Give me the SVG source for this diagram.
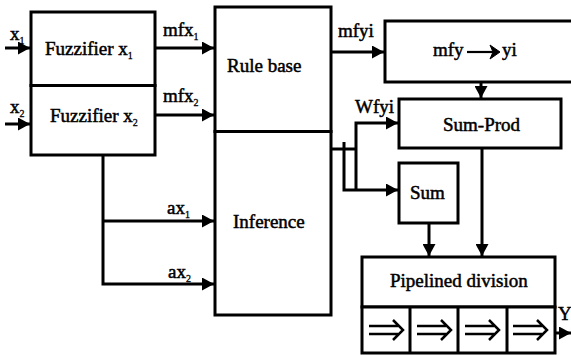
<svg xmlns="http://www.w3.org/2000/svg" width="571" height="355" viewBox="0 0 571 355">
<defs>
<style>
.box{fill:#fff;stroke:#000;stroke-width:3}
.ln{fill:none;stroke:#000;stroke-width:3}
text{font-family:'Liberation Serif','DejaVu Serif',serif;font-size:19px;fill:#000;stroke:#000;stroke-width:0.5}
.s{font-size:10px;stroke-width:0.3}
.dbl{fill:none;stroke:#000;stroke-width:2.5}
</style>
<marker id="ah" markerUnits="userSpaceOnUse" markerWidth="12" markerHeight="13" refX="12" refY="6.5" orient="auto">
<path d="M0,0 L12,6.5 L0,13 z" fill="#000"/>
</marker>
</defs>
<rect width="571" height="355" fill="#fff"/>

<g id="connectors">
<path class="ln" d="M5,48 H30" marker-end="url(#ah)"/>
<path class="ln" d="M5,124 H30" marker-end="url(#ah)"/>
<path class="ln" d="M155,48 H214" marker-end="url(#ah)"/>
<path class="ln" d="M155,115 H214" marker-end="url(#ah)"/>
<path class="ln" d="M103,155 V284 H214" marker-end="url(#ah)"/>
<path class="ln" d="M103,221 H214" marker-end="url(#ah)"/>
<path class="ln" d="M331,52 H384" marker-end="url(#ah)"/>
<path class="ln" d="M481,82 V98" marker-end="url(#ah)"/>
<path class="ln" d="M331,149 H356"/>
<path class="ln" d="M356,190 V123 H398" marker-end="url(#ah)"/>
<path class="ln" d="M344,142 V190 H398" marker-end="url(#ah)"/>
<path class="ln" d="M429,223 V256" marker-end="url(#ah)"/>
<path class="ln" d="M482,148 V256" marker-end="url(#ah)"/>
<path class="ln" d="M555,333 H571" marker-end="url(#ah)"/>
</g>

<g id="fuzzifier1">
<rect class="box" x="31" y="12" width="124" height="73.5"/>
<text x="45" y="55">Fuzzifier x<tspan class="s" dy="4">1</tspan></text>
</g>
<g id="fuzzifier2">
<rect class="box" x="31" y="85.5" width="124" height="69.5"/>
<text x="50" y="122">Fuzzifier x<tspan class="s" dy="4">2</tspan></text>
</g>
<g id="rulebase">
<rect class="box" x="215" y="7" width="116" height="124.5"/>
<text x="227" y="72">Rule base</text>
</g>
<g id="inference">
<rect class="box" x="215" y="131.5" width="116" height="183.5"/>
<text x="233" y="228">Inference</text>
</g>
<g id="mfy">
<rect class="box" x="385" y="21" width="195" height="61"/>
<text x="433" y="56">mfy</text>
<path d="M467,52 H495" fill="none" stroke="#000" stroke-width="2.2"/>
<path d="M490,45 L500,52 L490,59 L493,52 z" fill="#000" stroke="#000" stroke-width="1"/>
<text x="502" y="56">yi</text>
</g>
<g id="sumprod">
<rect class="box" x="399" y="99" width="162" height="49"/>
<text x="443" y="131">Sum-Prod</text>
</g>
<g id="sum">
<rect class="box" x="399" y="163" width="59" height="60"/>
<text x="410" y="199">Sum</text>
</g>
<g id="pipeline">
<rect class="box" x="362" y="257" width="193" height="50"/>
<rect class="box" x="362" y="307" width="193" height="46"/>
<path class="ln" d="M410,307 V353 M458,307 V353 M507,307 V353"/>
<text x="390" y="287">Pipelined division</text>
<path class="dbl" d="M369,326 H398 M369,334 H398 M393,320 L403,330 L393,340"/>
<path class="dbl" d="M417,326 H446 M417,334 H446 M441,320 L451,330 L441,340"/>
<path class="dbl" d="M465,326 H494 M465,334 H494 M489,320 L499,330 L489,340"/>
<path class="dbl" d="M513,326 H542 M513,334 H542 M537,320 L547,330 L537,340"/>
</g>

<g id="labels">
<text x="10" y="40">x<tspan class="s" dy="4">1</tspan></text>
<text x="10" y="113">x<tspan class="s" dy="4">2</tspan></text>
<text x="163" y="36">mfx<tspan class="s" dy="4">1</tspan></text>
<text x="163" y="102">mfx<tspan class="s" dy="4">2</tspan></text>
<text x="167" y="214">ax<tspan class="s" dy="4">1</tspan></text>
<text x="168" y="278">ax<tspan class="s" dy="4">2</tspan></text>
<text x="338" y="37">mfyi</text>
<text x="355" y="113">Wfyi</text>
<text x="558" y="320">Y</text>
</g>
</svg>
